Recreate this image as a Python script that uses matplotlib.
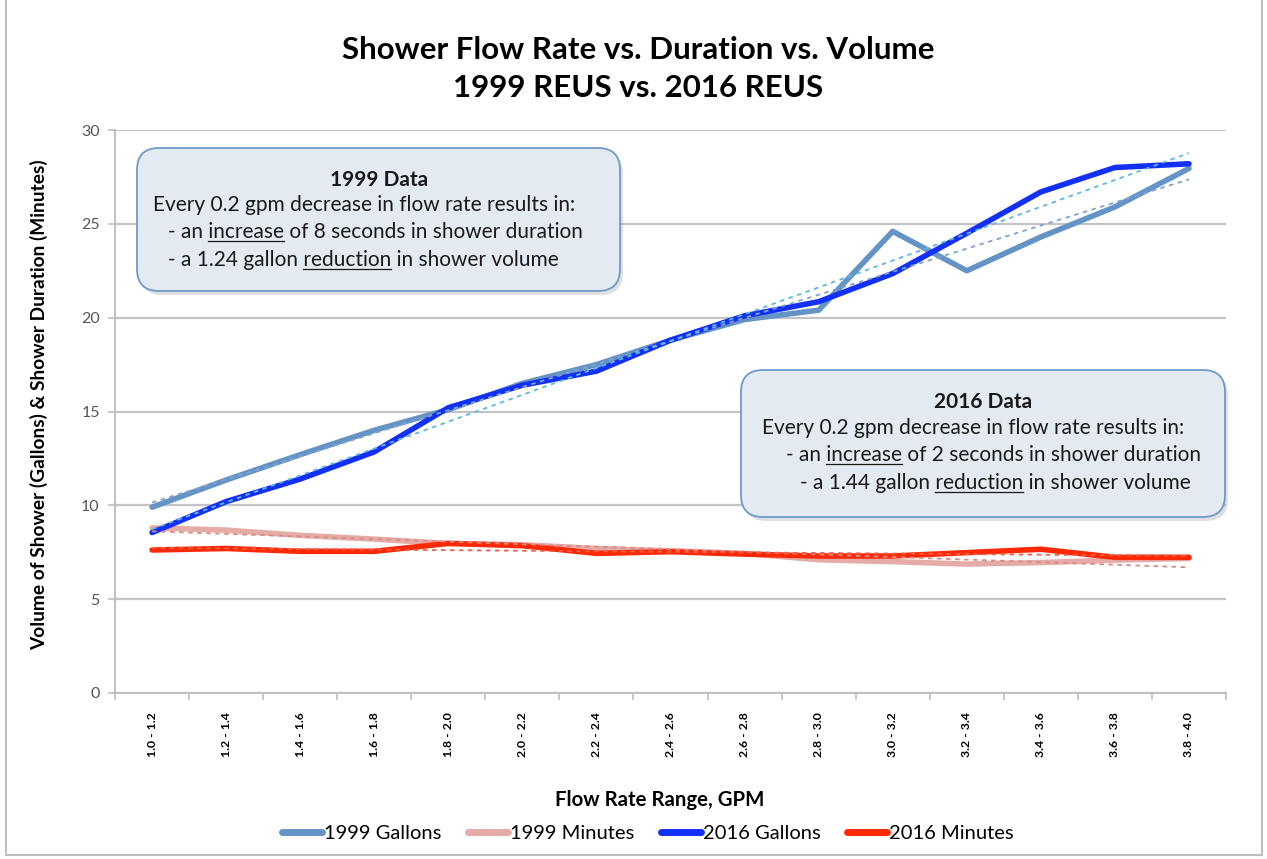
import numpy as np
import matplotlib
matplotlib.use('Agg')
import matplotlib.pyplot as plt
from matplotlib.patches import FancyBboxPatch
from matplotlib.lines import Line2D

plt.rcParams['font.family'] = ['Lato', 'DejaVu Sans']

categories = ['1.0 - 1.2', '1.2 - 1.4', '1.4 - 1.6', '1.6 - 1.8', '1.8 - 2.0',
              '2.0 - 2.2', '2.2 - 2.4', '2.4 - 2.6', '2.6 - 2.8', '2.8 - 3.0',
              '3.0 - 3.2', '3.2 - 3.4', '3.4 - 3.6', '3.6 - 3.8', '3.8 - 4.0']
gallons_1999 = [9.9, 11.35, 12.7, 14.0, 15.1, 16.5, 17.5, 18.8, 19.9, 20.4,
                24.6, 22.5, 24.3, 25.9, 27.95]
minutes_1999 = [8.8, 8.68, 8.4, 8.2, 7.97, 7.9, 7.7, 7.58, 7.44, 7.1,
                7.0, 6.87, 6.95, 7.08, 7.17]
gallons_2016 = [8.55, 10.2, 11.4, 12.85, 15.2, 16.4, 17.15, 18.8, 20.1, 20.85,
                22.35, 24.5, 26.7, 28.0, 28.2]
minutes_2016 = [7.62, 7.7, 7.55, 7.55, 7.97, 7.85, 7.44, 7.53, 7.4, 7.3,
                7.3, 7.48, 7.66, 7.23, 7.23]
y_ticks = [0, 5, 10, 15, 20, 25, 30]

W, H = 1267, 859
fig = plt.figure(figsize=(W / 100, H / 100), dpi=100)

def fx(px):
    return px / W

def fy(py):
    return 1 - py / H

ax_l, ax_r, ax_t, ax_b = 115, 1226, 130, 693
ax = fig.add_axes([fx(ax_l), fy(ax_b), (ax_r - ax_l) / W, (ax_b - ax_t) / H])

x = np.arange(len(categories))
series = [
    ('1999 Gallons', gallons_1999, '#6494C6', '#7FA3CC'),
    ('1999 Minutes', minutes_1999, '#E5ABA7', '#D98B86'),
    ('2016 Gallons', gallons_2016, '#1330F7', '#5DB8E0'),
    ('2016 Minutes', minutes_2016, '#FF2A05', '#E8604A'),
]
for name, vals, col, tcol in series:
    ax.plot(x, vals, color=col, lw=4.0, solid_capstyle='round',
            solid_joinstyle='round', label=name, zorder=3)
for name, vals, col, tcol in series:
    m, b = np.polyfit(x, vals, 1)
    ax.plot(x, m * x + b, color=tcol, lw=1.3, ls=(0, (2.5, 2.5)), zorder=4)

ax.set_xlim(-0.5, len(categories) - 0.5)
ax.set_ylim(0, 30)
ax.set_yticks(y_ticks)
ax.yaxis.grid(True, color='#C4C4C4', lw=1.6)
ax.set_axisbelow(True)
for s in ['top', 'right']:
    ax.spines[s].set_visible(False)
for s in ['left', 'bottom']:
    ax.spines[s].set_color('#BDBDBD')
    ax.spines[s].set_linewidth(1.3)
ax.tick_params(axis='y', length=5, width=1.2, color='#BDBDBD', pad=6,
               labelsize=11.5, labelcolor='#555555')
ax.set_xticks(np.arange(-0.5, len(categories)), labels=[])
ax.tick_params(axis='x', which='major', length=5, width=1.2, color='#BDBDBD')
ax.set_xticks(x, labels=categories, minor=True)
ax.tick_params(axis='x', which='minor', length=0, pad=14, labelsize=8.8,
               labelrotation=90)
for lab in ax.get_xticklabels(minor=True):
    lab.set_fontweight('bold')
    lab.set_va('top')

fig.text(fx(39), fy(405), 'Volume of Shower (Gallons) & Shower Duration (Minutes)',
         rotation=90, ha='center', va='center', fontsize=13.8, fontweight='bold')
fig.text(fx(660), fy(800), 'Flow Rate Range, GPM', ha='center', va='center',
         fontsize=14.7, fontweight='bold')
fig.text(fx(638), fy(50), 'Shower Flow Rate vs. Duration vs. Volume', ha='center',
         va='center', fontsize=22.5, fontweight='bold')
fig.text(fx(638), fy(88), '1999 REUS vs. 2016 REUS', ha='center', va='center',
         fontsize=22.5, fontweight='bold')

leg = ax.legend(loc='center', bbox_to_anchor=(fx(648), fy(833)),
                bbox_transform=fig.transFigure, ncol=4, frameon=False,
                fontsize=14.5, handlelength=2.0, handletextpad=0.1,
                columnspacing=1.3)
for h in leg.get_lines():
    h.set_linewidth(5)

# outer border
fig.add_artist(Line2D([fx(6), fx(6)], [fy(0), fy(855)], color='#BFBFBF', lw=1.5))
fig.add_artist(Line2D([fx(1262), fx(1262)], [fy(0), fy(855)], color='#BFBFBF', lw=1.5))
fig.add_artist(Line2D([fx(6), fx(1262)], [fy(855), fy(855)], color='#BFBFBF', lw=1.5))

tr = fig.dpi_scale_trans

def P(px, py):
    return px / 100, (H - py) / 100

def draw_box(x0, y0, x1, y1):
    bx, by = P(x0, y1)
    w, h = (x1 - x0) / 100, (y1 - y0) / 100
    sh = FancyBboxPatch((bx + 0.03, by - 0.04), w, h,
                        boxstyle='round,pad=0,rounding_size=0.22',
                        transform=tr, facecolor='#9A9A9A', alpha=0.3,
                        edgecolor='none', zorder=5)
    fig.add_artist(sh)
    bp = FancyBboxPatch((bx, by), w, h, boxstyle='round,pad=0,rounding_size=0.22',
                        transform=tr, facecolor='#E3EAF2', edgecolor='#6E9ACB',
                        lw=1.3, zorder=6)
    fig.add_artist(bp)

FS = 15
renderer = fig.canvas.get_renderer()

def text_w(s):
    t = fig.text(0, 0, s + '|', fontsize=FS)
    w1 = t.get_window_extent(renderer).width
    t.remove()
    t = fig.text(0, 0, '|', fontsize=FS)
    w2 = t.get_window_extent(renderer).width
    t.remove()
    return w1 - w2

def put(px, py, s, **kw):
    fig.text(*P(px, py), s, transform=tr, fontsize=FS, va='baseline',
             zorder=7, color='#1A1A1A', **kw)

def put_ul(px, py, prefix, word, suffix):
    put(px, py, prefix + word + suffix)
    xs = px + text_w(prefix)
    xe = px + text_w(prefix + word)
    fig.add_artist(Line2D([xs / 100, xe / 100], [(H - py - 3) / 100] * 2,
                          transform=tr, color='#1A1A1A', lw=0.9, zorder=7))

draw_box(137, 148, 620, 291)
put(379, 186, '1999 Data', ha='center', fontweight='bold')
put(153, 211, 'Every 0.2 gpm decrease in flow rate results in:')
put_ul(168, 238, '- an ', 'increase', ' of 8 seconds in shower duration')
put_ul(168, 266, '- a 1.24 gallon ', 'reduction', ' in shower volume')

draw_box(741, 370, 1225, 517)
put(983, 408, '2016 Data', ha='center', fontweight='bold')
put(762, 434, 'Every 0.2 gpm decrease in flow rate results in:')
put_ul(786, 461, '- an ', 'increase', ' of 2 seconds in shower duration')
put_ul(800, 489, '- a 1.44 gallon ', 'reduction', ' in shower volume')

fig.savefig('out.png', dpi=100)
